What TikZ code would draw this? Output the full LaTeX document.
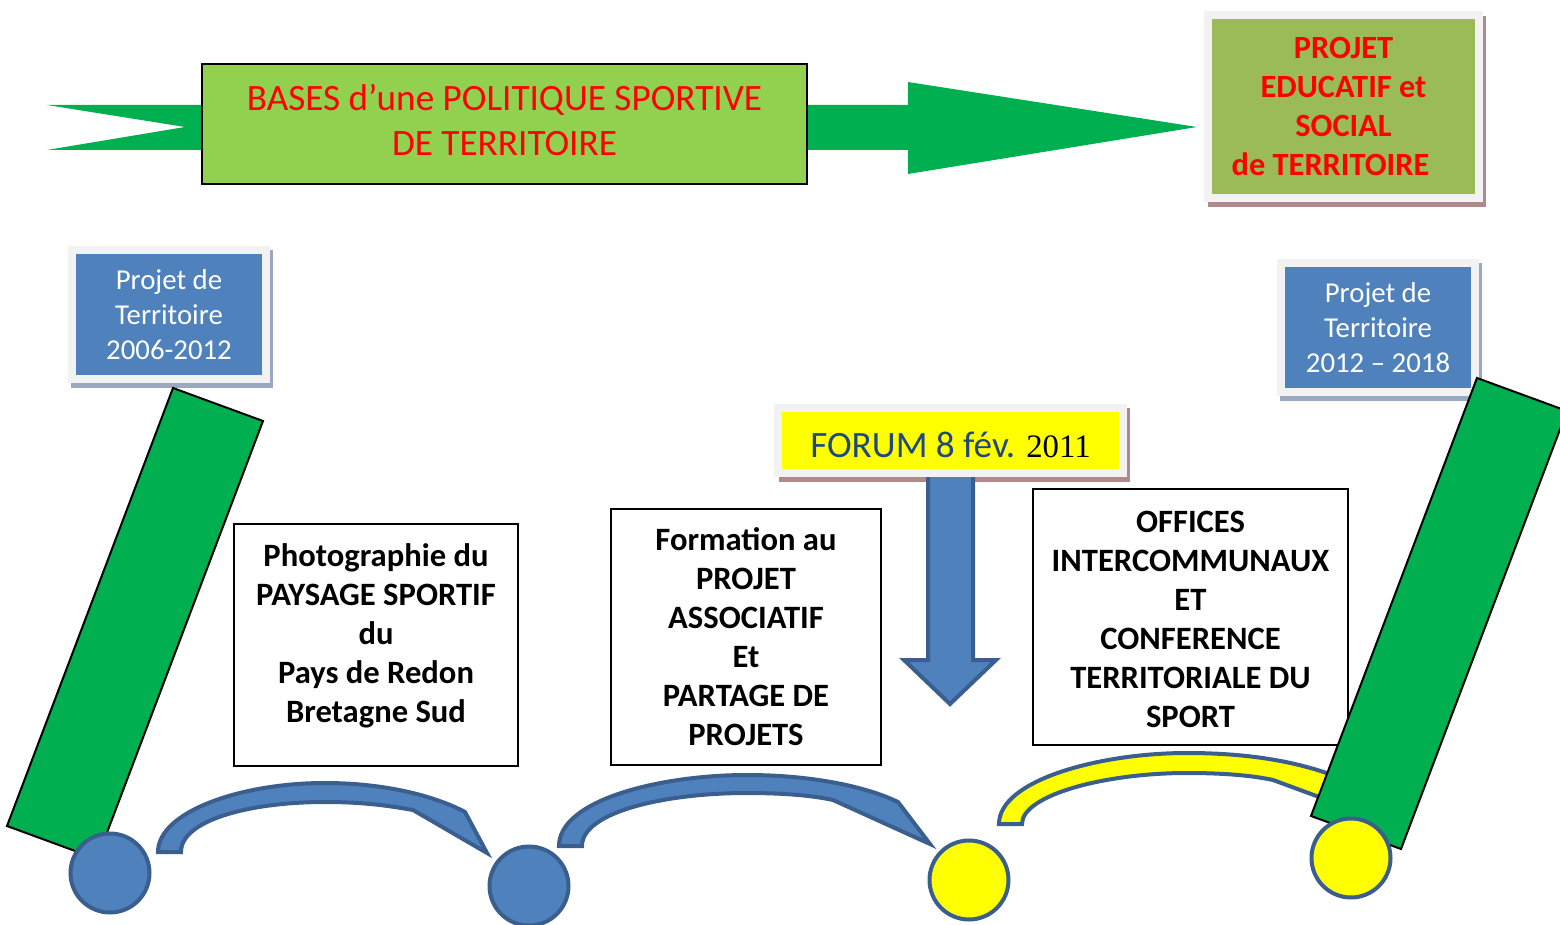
\documentclass[tikz,border=0pt]{standalone}
\usepackage{fontspec}
\setmainfont{Carlito}
\newfontfamily\timesf{Liberation Serif}
\usetikzlibrary{calc,backgrounds}
\definecolor{gr}{HTML}{00B050}
\definecolor{lgr}{HTML}{92D050}
\definecolor{olv}{HTML}{9BBB59}
\definecolor{bl}{HTML}{4F81BD}
\definecolor{bld}{HTML}{3A5F8F}
\definecolor{framec}{HTML}{F2F2F2}
\definecolor{shm}{HTML}{B08A8A}
\definecolor{shb}{HTML}{9AA8C2}
\definecolor{navy}{HTML}{1F497D}
\definecolor{yel}{HTML}{FFFF00}
\tikzset{
  framed/.style={preaction={draw=framec,line width=8pt}},
  basebox/.style={draw=black,line width=1pt,fill=lgr,minimum width=302.5pt,minimum height=60pt},
  basetext/.style={text=red,align=center,font=\fontsize{18.6}{22.5}\selectfont},
  pebox/.style={framed,fill=olv,minimum width=131.5pt,minimum height=87.5pt,text=red,align=center,
    font=\bfseries\fontsize{16.2}{19.5}\selectfont},
  ptbox/.style={framed,fill=bl,minimum width=93pt,minimum height=60.5pt,text=white,align=center,
    font=\fontsize{14.4}{17.5}\selectfont},
  forumbox/.style={framed,fill=yel,minimum width=168.5pt,minimum height=28.5pt},
  forumtext/.style={text=navy,font=\fontsize{18.6}{22}\selectfont},
  txtbox/.style={draw=black,line width=1pt,fill=white,align=center,
    font=\bfseries\fontsize{16.3}{19.5}\selectfont},
  boldtext/.style={align=center,font=\bfseries\fontsize{16.3}{19.5}\selectfont},
  blockarrow/.style={draw=bld,line width=2pt,line join=miter},
  bar/.style={draw=black,line width=1pt,fill=gr},
  disc/.style={circle,draw=bld,line width=2pt,minimum size=39.5pt,inner sep=0pt}
}
\begin{document}
\begin{tikzpicture}[x=0.5pt,y=-0.5pt]
\useasboundingbox (0,0) rectangle (1560,925);
% top arrow
\fill[gr] (47,105) -- (908,105) -- (908,82) -- (1197,127) -- (908,174) -- (908,150) -- (47,150) -- (185,127) -- cycle;
\node[basebox] (bases) at (504.5,124) {};
\node[basetext] (basestxt) at (504.5,120) {BASES d’une POLITIQUE SPORTIVE\\DE TERRITOIRE};
% projet educatif
\node[pebox] (pe) at (1343.5,106.5) {PROJET\\EDUCATIF et\\SOCIAL\\de TERRITOIRE\hspace*{13pt}};
% projet de territoire
\node[ptbox] (pt1) at (169,314.5) {Projet de\\Territoire\\2006-2012};
\node[ptbox] (pt2) at (1378,327.5) {Projet de\\Territoire\\2012 – 2018};
% text boxes
\node[txtbox,minimum width=142pt,minimum height=121pt] (photo) at (376,645) {};
\node[boldtext] (phototxt) at (376,636)
  {Photographie du\\PAYSAGE SPORTIF\\du\\Pays de Redon\\Bretagne Sud};
\node[txtbox,minimum width=135pt,minimum height=128pt] (form) at (746,637)
  {Formation au\\PROJET\\ASSOCIATIF\\Et\\PARTAGE DE\\PROJETS};
\node[txtbox,minimum width=157.5pt,minimum height=128pt] (off) at (1190.5,617) {};
\node[boldtext] (offtxt) at (1190.5,619)
  {OFFICES\\INTERCOMMUNAUX\\ET\\CONFERENCE\\TERRITORIALE DU\\SPORT};
% down arrow
\draw[blockarrow,fill=bl] (928,472) -- (973,472) -- (973,660) -- (996,660) -- (950,704) -- (904,660) -- (928,660) -- cycle;
% forum
\node[forumbox] (forum) at (950.5,440.5) {};
\node[forumtext] (forumtxt) at (950.5,444.5) {FORUM 8 fév. {\color{black}\timesf\fontsize{16.4}{20}\selectfont 2011}};
% shadows
\begin{scope}[on background layer]
\fill[shm] ($(pe.north west)+(-4,-3)$) rectangle ($(pe.south east)+(11,13)$);
\fill[shb] ($(pt1.north west)+(-5,-4)$) rectangle ($(pt1.south east)+(11,13)$);
\fill[shb] ($(pt2.north west)+(-5,-4)$) rectangle ($(pt2.south east)+(11,13)$);
\fill[shm] ($(forum.north west)+(-3,-4)$) rectangle ($(forum.south east)+(11,13)$);
\end{scope}
% curved arrows
\draw[blockarrow,fill=bl] (158,852) .. controls (158,812) and (240,783) .. (325,783)
  .. controls (385,783) and (435,796) .. (465,812) -- (487,853) -- (413,810)
  .. controls (385,805) and (360,802) .. (325,802) .. controls (250,802) and (181,820) .. (181,852) -- cycle;
\draw[blockarrow,fill=bl] (559,846) .. controls (559,800) and (660,775) .. (747,775)
  .. controls (810,775) and (865,786) .. (898,802) -- (930,844) -- (833,800)
  .. controls (810,795) and (780,793) .. (747,793) .. controls (665,793) and (582,812) .. (582,846) -- cycle;
\draw[blockarrow,fill=yel] (999,824) .. controls (999,780) and (1100,753) .. (1187,753)
  .. controls (1250,753) and (1300,762) .. (1340,778) -- (1368,815) -- (1273,780)
  .. controls (1250,775) and (1220,773) .. (1187,773) .. controls (1105,773) and (1022,795) .. (1022,824) -- cycle;
% green bars
\draw[bar] (173,388) -- (263,421) -- (97,859) -- (7,826) -- cycle;
\draw[bar] (1477,378) -- (1567,411) -- (1401,849) -- (1311,816) -- cycle;
% discs
\node[disc,fill=bl] (c1) at (110,873) {};
\node[disc,fill=bl] (c2) at (529,886) {};
\node[disc,fill=yel] (c3) at (969,880) {};
\node[disc,fill=yel] (c4) at (1351,858) {};
\end{tikzpicture}
\end{document}
